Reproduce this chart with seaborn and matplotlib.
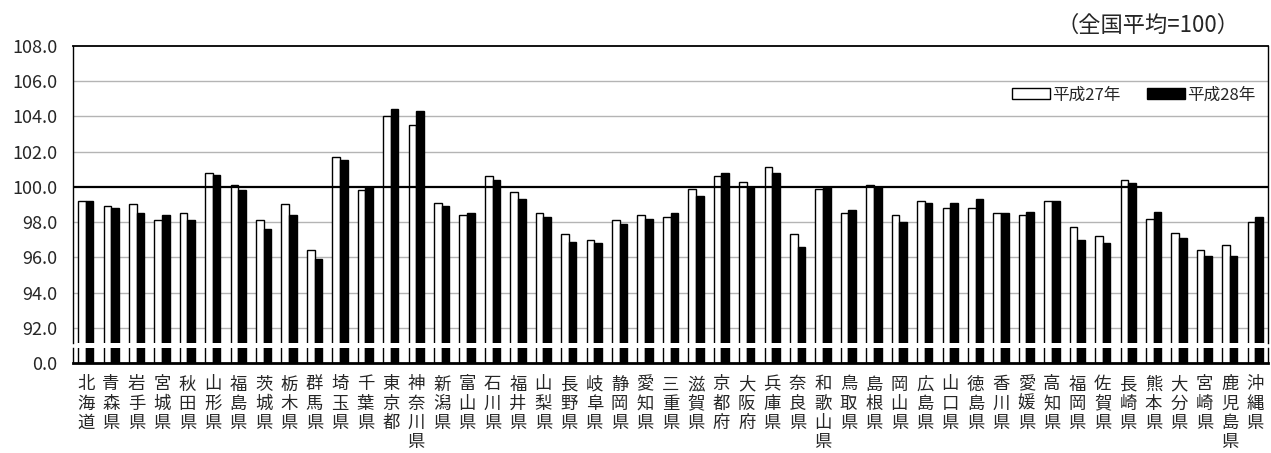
import matplotlib
matplotlib.use("Agg")
import matplotlib.pyplot as plt
from matplotlib.patches import Patch
import seaborn as sns
import pandas as pd

prefectures = [
    "北海道", "青森県", "岩手県", "宮城県", "秋田県", "山形県", "福島県", "茨城県",
    "栃木県", "群馬県", "埼玉県", "千葉県", "東京都", "神奈川県", "新潟県", "富山県",
    "石川県", "福井県", "山梨県", "長野県", "岐阜県", "静岡県", "愛知県", "三重県",
    "滋賀県", "京都府", "大阪府", "兵庫県", "奈良県", "和歌山県", "鳥取県", "島根県",
    "岡山県", "広島県", "山口県", "徳島県", "香川県", "愛媛県", "高知県", "福岡県",
    "佐賀県", "長崎県", "熊本県", "大分県", "宮崎県", "鹿児島県", "沖縄県",
]
h27 = [
    99.2, 98.9, 99.0, 98.1, 98.5, 100.8, 100.1, 98.1, 99.0, 96.4, 101.7, 99.8,
    104.0, 103.5, 99.1, 98.4, 100.6, 99.7, 98.5, 97.3, 97.0, 98.1, 98.4, 98.3,
    99.9, 100.6, 100.3, 101.1, 97.3, 99.9, 98.5, 100.1, 98.4, 99.2, 98.8, 98.8,
    98.5, 98.4, 99.2, 97.7, 97.2, 100.4, 98.2, 97.4, 96.4, 96.7, 98.0,
]
h28 = [
    99.2, 98.8, 98.5, 98.4, 98.1, 100.7, 99.8, 97.6, 98.4, 95.9, 101.5, 100.0,
    104.4, 104.3, 98.9, 98.5, 100.4, 99.3, 98.3, 96.9, 96.8, 97.9, 98.2, 98.5,
    99.5, 100.8, 100.0, 100.8, 96.6, 100.0, 98.7, 100.0, 98.0, 99.1, 99.1, 99.3,
    98.5, 98.6, 99.2, 97.0, 96.8, 100.2, 98.6, 97.1, 96.1, 96.1, 98.3,
]
series_names = ["平成27年", "平成28年"]
upper_ticks = [92.0, 94.0, 96.0, 98.0, 100.0, 102.0, 104.0, 106.0, 108.0]
note = "（全国平均=100）"

df = pd.DataFrame({
    "pref": prefectures * 2,
    "year": [series_names[0]] * len(h27) + [series_names[1]] * len(h28),
    "value": h27 + h28,
})
palette = {series_names[0]: "white", series_names[1]: "black"}

sns.set_style("white")
plt.rcParams["font.family"] = ["Noto Sans CJK JP", "DejaVu Sans"]

W, H = 1271, 453
fig = plt.figure(figsize=(W / 100, H / 100), dpi=100)

left, right = 73, 1268
top_up, bot_up = 45.7, 343
top_lo, bot_lo = 348, 363


def axes_rect(t, b):
    return [left / W, (H - b) / H, (right - left) / W, (b - t) / H]


ax_up = fig.add_axes(axes_rect(top_up, bot_up))
ax_lo = fig.add_axes(axes_rect(top_lo, bot_lo))

for ax in (ax_up, ax_lo):
    sns.barplot(data=df, x="pref", y="value", hue="year", palette=palette,
                edgecolor="black", linewidth=1.0, width=0.6, gap=0,
                legend=False, ax=ax)
    ax.set_xlim(-0.5, len(prefectures) - 0.5)
    ax.set_xlabel("")
    ax.set_ylabel("")
    for s in ax.spines.values():
        s.set_color("black")
        s.set_linewidth(1.0)

# upper part of the broken axis
ax_up.set_ylim(91.15, 108.0)
ax_up.set_yticks(upper_ticks)
ax_up.set_yticklabels([f"{v:.1f}" for v in upper_ticks])
ax_up.tick_params(axis="y", length=0, pad=11, labelsize=13)
ax_up.set_xticks([])
ax_up.spines["bottom"].set_visible(False)
ax_up.spines["top"].set_linewidth(1.3)
for v in upper_ticks[:-1]:
    if v == 100.0:
        ax_up.axhline(v, color="black", lw=1.6, zorder=3)
    else:
        ax_up.axhline(v, color="#b4b4b4", lw=1.0, zorder=0)

# lower part down to zero
ax_lo.set_ylim(0, 1)
ax_lo.set_yticks([0])
ax_lo.set_yticklabels(["0.0"])
ax_lo.tick_params(axis="y", length=0, pad=11, labelsize=13)
ax_lo.spines["top"].set_visible(False)
ax_lo.spines["bottom"].set_linewidth(2.0)
ax_lo.set_xticks(range(len(prefectures)))
ax_lo.set_xticklabels(["\n".join(p) for p in prefectures], va="top",
                      linespacing=1.08)
ax_lo.tick_params(axis="x", which="major", length=0, pad=9, labelsize=12.5)
ax_lo.set_xticks([i + 0.5 for i in range(len(prefectures) - 1)], minor=True)
ax_lo.tick_params(axis="x", which="minor", direction="in", length=4,
                  width=1, color="black")

handles = [Patch(facecolor=palette[n], edgecolor="black", linewidth=1.0, label=n)
           for n in series_names]
fig.legend(handles=handles, loc="center", bbox_to_anchor=(1133.5 / W, (H - 95) / H),
           ncol=2, frameon=False, fontsize=12, handlelength=2.3, handleheight=0.6,
           handletextpad=0.1, columnspacing=1.6, borderpad=0)

fig.text(1240 / W, (H - 25) / H, note, ha="right", va="center", fontsize=16)

fig.savefig("out.png", dpi=100)
